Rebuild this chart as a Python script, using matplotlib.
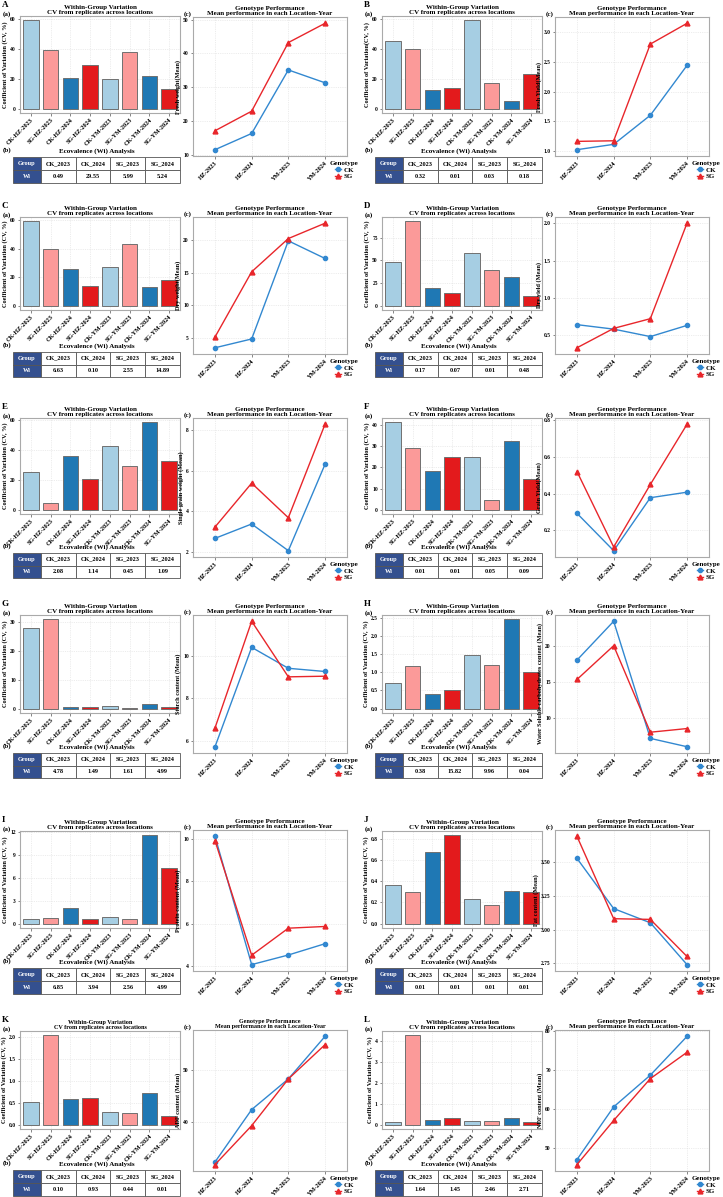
import matplotlib
matplotlib.use('Agg')
import matplotlib.pyplot as plt
from matplotlib.lines import Line2D

plt.rcParams['font.family'] = ['Liberation Serif', 'DejaVu Serif']
plt.rcParams['font.weight'] = 'bold'
plt.rcParams['axes.titleweight'] = 'bold'
plt.rcParams['axes.labelweight'] = 'bold'

# ---------------- data ----------------
bar_categories = ["CK-HZ-2023", "SG-HZ-2023", "CK-HZ-2024", "SG-HZ-2024",
                  "CK-YM-2023", "SG-YM-2023", "CK-YM-2024", "SG-YM-2024"]
line_categories = ["HZ-2023", "HZ-2024", "YM-2023", "YM-2024"]
wi_groups = ["CK_2023", "CK_2024", "SG_2023", "SG_2024"]
panel_letters = ["A", "B", "C", "D", "E", "F", "G", "H", "I", "J", "K", "L"]

cv_A = [59.1, 39.6, 20.2, 29.4, 19.8, 38.2, 21.6, 12.8]
ck_A = [11.5, 16.3, 35.1, 31.3]
sg_A = [17.1, 22.9, 43.2, 48.9]
wi_A = [0.49, 29.55, 5.99, 5.24]

cv_B = [45.6, 40.0, 12.5, 14.1, 59.3, 17.4, 5.4, 23.5]
ck_B = [1.02, 1.11, 1.60, 2.44]
sg_B = [1.16, 1.17, 2.80, 3.15]
wi_B = [0.32, 0.01, 0.03, 0.18]

cv_C = [59.2, 39.5, 25.9, 13.8, 27.0, 43.3, 13.2, 18.3]
ck_C = [3.5, 4.85, 19.9, 17.2]
sg_C = [5.15, 15.15, 20.25, 22.6]
wi_C = [6.63, 0.10, 2.55, 14.89]

cv_D = [47.7, 92.9, 19.8, 14.5, 58.3, 39.2, 31.8, 11.0]
ck_D = [0.64, 0.58, 0.48, 0.63]
sg_D = [0.33, 0.59, 0.72, 2.0]
wi_D = [0.17, 0.07, 0.01, 0.48]

cv_E = [25.0, 4.2, 36.1, 20.1, 42.3, 29.4, 58.2, 32.5]
ck_E = [2.66, 3.37, 2.05, 6.32]
sg_E = [3.22, 5.39, 3.68, 8.30]
wi_E = [2.08, 1.14, 0.45, 1.09]

cv_F = [41.4, 29.4, 18.3, 24.8, 25.2, 4.5, 32.7, 14.7]
ck_F = [0.293, 0.09, 0.378, 0.408]
sg_F = [0.52, 0.11, 0.45, 0.777]
wi_F = [0.01, 0.01, 0.05, 0.09]

cv_G = [28.0, 30.8, 0.7, 0.6, 0.8, 0.2, 1.5, 0.45]
ck_G = [5.74, 10.39, 9.41, 9.26]
sg_G = [6.62, 11.61, 9.01, 9.04]
wi_G = [4.78, 1.49, 1.61, 4.99]

cv_H = [0.69, 1.18, 0.40, 0.51, 1.48, 1.19, 2.45, 1.01]
ck_H = [18.1, 23.5, 7.2, 6.04]
sg_H = [15.4, 20.1, 8.06, 8.57]
wi_H = [0.38, 15.82, 9.96, 0.04]

cv_I = [0.61, 0.70, 2.1, 0.61, 0.88, 0.66, 11.6, 7.3]
ck_I = [10.1, 4.08, 4.53, 5.06]
sg_I = [9.9, 4.52, 5.79, 5.87]
wi_I = [6.85, 3.94, 2.56, 4.99]

cv_J = [0.365, 0.294, 0.678, 0.83, 0.232, 0.176, 0.303, 0.297]
ck_J = [3.527, 3.155, 3.05, 2.74]
sg_J = [3.69, 3.08, 3.075, 2.80]
wi_J = [0.01, 0.01, 0.01, 0.01]

cv_K = [0.51, 2.04, 0.58, 0.61, 0.29, 0.27, 0.72, 0.19]
ck_K = [32.2, 42.3, 48.2, 56.4]
sg_K = [31.7, 39.2, 48.2, 54.8]
wi_K = [0.10, 0.93, 0.44, 0.01]

cv_L = [0.13, 4.27, 0.24, 0.32, 0.18, 0.16, 0.32, 0.13]
ck_L = [46.9, 60.5, 68.7, 78.7]
sg_L = [45.6, 57.0, 67.8, 74.6]
wi_L = [1.64, 1.45, 2.46, 2.71]

cv_ylabels = ["Coefficient of Variation (CV, %)", "Coefficient of Variation(CV, %)"] + \
             ["Coefficient of Variation (CV, %)"] * 10
mean_ylabels = ["Fresh weight(Mean)", "Fresh Yield(Mean)", "Dry weight(Mean)",
                "Dry yield (Mean)", "Single grain weight (Mean)", "Grain Yield(Mean)",
                "Starch content (Mean)", "Water Soluble carbohydrates content (Mean)",
                "Protein content (Mean)", "Fat content (Mean)", "ADF content (Mean)",
                "NDF content (Mean)"]
cv_ticks = [[0, 20, 40, 60], [0, 20, 40, 60], [0, 20, 40, 60], [0, 25, 50, 75],
            [0, 20, 40, 60], [0, 10, 20, 30, 40], [0, 10, 20, 30],
            [0.0, 0.5, 1.0, 1.5, 2.0, 2.5], [0, 3, 6, 9, 12],
            [0.0, 0.2, 0.4, 0.6, 0.8], [0.0, 0.5, 1.0, 1.5, 2.0], [0, 1, 2, 3, 4]]
mean_ticks = [[10, 20, 30, 40, 50], [1.0, 1.5, 2.0, 2.5, 3.0], [5, 10, 15, 20],
              [0.5, 1.0, 1.5, 2.0], [2, 4, 6, 8], [0.2, 0.4, 0.6, 0.8], [6, 8, 10],
              [10, 15, 20], [4, 6, 8, 10], [2.75, 3.00, 3.25, 3.50], [40, 50],
              [50, 60, 70, 80]]
cv_fmt = ["%d", "%d", "%d", "%d", "%d", "%d", "%d", "%.1f", "%d", "%.1f", "%.1f", "%d"]
mean_fmt = ["%d", "%.1f", "%d", "%.1f", "%d", "%.1f", "%d", "%d", "%d", "%.2f", "%d", "%d"]

cv_all = [cv_A, cv_B, cv_C, cv_D, cv_E, cv_F, cv_G, cv_H, cv_I, cv_J, cv_K, cv_L]
ck_all = [ck_A, ck_B, ck_C, ck_D, ck_E, ck_F, ck_G, ck_H, ck_I, ck_J, ck_K, ck_L]
sg_all = [sg_A, sg_B, sg_C, sg_D, sg_E, sg_F, sg_G, sg_H, sg_I, sg_J, sg_K, sg_L]
wi_all = [wi_A, wi_B, wi_C, wi_D, wi_E, wi_F, wi_G, wi_H, wi_I, wi_J, wi_K, wi_L]

# ---------------- style / layout ----------------
W, H = 723, 1197
fig = plt.figure(figsize=(W / 100, H / 100), dpi=100)

bar_colors = {"CK-2023": "#A6CEE3", "SG-2023": "#FB9A99",
              "CK-2024": "#1F78B4", "SG-2024": "#E31A1C"}
CK_COLOR = "#3288D0"
SG_COLOR = "#E8262B"
HEAD_COLOR = "#34508F"
FRAME = "#AAAAAA"

rows = [
    dict(bar=(16, 113), tbl=(157, 183), line=(17, 156)),
    dict(bar=(217, 310), tbl=(352, 377), line=(217, 354)),
    dict(bar=(418, 514), tbl=(553, 578), line=(418, 557)),
    dict(bar=(615, 713), tbl=(753, 778), line=(615, 753)),
    dict(bar=(831, 928), tbl=(968, 994), line=(830, 971)),
    dict(bar=(1031, 1129), tbl=(1170, 1196), line=(1030, 1171)),
]


def rect(left, top, w, h):
    return [left / W, 1 - (top + h) / H, w / W, h / H]


def ftext(x, y, s, **kw):
    fig.text(x / W, 1 - y / H, s, **kw)


def style_axes(ax):
    for sp in ax.spines.values():
        sp.set_edgecolor(FRAME)
        sp.set_linewidth(0.8)
    ax.grid(True, color="#DDDDDD", lw=0.4, ls=(0, (2, 2)))
    ax.set_axisbelow(True)
    ax.tick_params(length=1.8, width=0.5, color="#555555", pad=1.2)


for i, letter in enumerate(panel_letters):
    r = rows[i // 2]
    X0 = 0 if i % 2 == 0 else 362
    bt, bb = r["bar"]
    tt, tb_ = r["tbl"]
    lt, lb = r["line"]
    tsize = 4.4 if letter == "K" else 5.0

    ftext(X0 + 2, bt - 11, letter, fontsize=6.5, ha="left", va="center")
    ftext(X0 + 3, bt - 2, "(a)", fontsize=5, ha="left", va="center")
    ftext(X0 + 184, lt - 3, "(c)", fontsize=5, ha="left", va="center")

    # ---- bar chart ----
    ax = fig.add_axes(rect(X0 + 20, bt, 160, bb - bt))
    cv = cv_all[i]
    cols = [bar_colors[c[:2] + "-" + c[-4:]] for c in bar_categories]
    ax.bar(range(len(bar_categories)), cv, width=0.78, color=cols,
           edgecolor="#707070", linewidth=0.7)
    m = max(cv)
    ax.set_ylim(-0.05 * m, 1.05 * m)
    ax.set_xlim(-0.55, len(bar_categories) - 0.45)
    ax.set_xticks(range(len(bar_categories)))
    ax.set_xticklabels(bar_categories, rotation=45, ha="right",
                       rotation_mode="anchor", fontsize=4.5)
    ax.set_yticks(cv_ticks[i])
    ax.set_yticklabels([cv_fmt[i] % t for t in cv_ticks[i]], fontsize=4)
    ax.set_ylabel(cv_ylabels[i], fontsize=4.5, labelpad=1.5)
    ax.set_title("Within-Group Variation\nCV from replicates across locations",
                 fontsize=tsize, pad=1.5, linespacing=1.05)
    style_axes(ax)

    # ---- table ----
    ftext(X0 + 3, tt - 7, "(b)", fontsize=5, ha="left", va="center")
    ftext(X0 + 97, tt - 6, "Ecovalence (Wi) Analysis", fontsize=5,
          ha="center", va="center")
    tax = fig.add_axes(rect(X0 + 13, tt, 167, tb_ - tt))
    tax.axis("off")
    cells = [["Group"] + wi_groups, ["Wi"] + ["%.2f" % v for v in wi_all[i]]]
    widths = [28, 35, 35, 35, 35]
    tot = sum(widths)
    table = tax.table(cellText=cells, bbox=[0, 0, 1, 1],
                      colWidths=[w_ / tot for w_ in widths], cellLoc="center")
    table.auto_set_font_size(False)
    table.set_fontsize(4.5)
    for (rr, cc), cell in table.get_celld().items():
        cell.set_edgecolor("#555555")
        cell.set_linewidth(0.6)
        cell.get_text().set_fontweight("bold")
        if cc == 0:
            cell.set_facecolor(HEAD_COLOR)
            cell.get_text().set_color("white")

    # ---- line chart ----
    lx = fig.add_axes(rect(X0 + 193, lt, 154, lb - lt))
    xs = range(len(line_categories))
    lx.plot(xs, ck_all[i], color=CK_COLOR, lw=1.0, marker="o", ms=3, zorder=3)
    lx.plot(xs, sg_all[i], color=SG_COLOR, lw=1.0, marker="^", ms=3.5, zorder=3)
    allv = list(ck_all[i]) + list(sg_all[i])
    lo, hi = min(allv), max(allv)
    pad = 0.05 * (hi - lo)
    lx.set_ylim(lo - pad, hi + pad)
    lx.set_xlim(-0.6, len(line_categories) - 0.4)
    lx.set_xticks(list(xs))
    lx.set_xticklabels(line_categories, rotation=45, ha="right",
                       rotation_mode="anchor", fontsize=4.5)
    lx.set_yticks(mean_ticks[i])
    lx.set_yticklabels([mean_fmt[i] % t for t in mean_ticks[i]], fontsize=4)
    lx.set_ylabel(mean_ylabels[i], fontsize=4.5, labelpad=1.5)
    lx.set_title("Genotype Performance\nMean performance in each Location-Year",
                 fontsize=tsize, pad=1.5, linespacing=1.05)
    style_axes(lx)

    handles = [Line2D([], [], color=CK_COLOR, marker="o", ms=3, lw=1.0),
               Line2D([], [], color=SG_COLOR, marker="^", ms=3.5, lw=1.0)]
    leg = fig.legend(handles, ["CK", "SG"], title="Genotype", loc="upper left",
                     bbox_to_anchor=((X0 + 330) / W, 1 - (lb + 5) / H),
                     frameon=False, fontsize=5, title_fontsize=5,
                     handlelength=0.8, handletextpad=0.4, borderpad=0,
                     labelspacing=0.1, borderaxespad=0)
    leg.get_title().set_fontweight("bold")

fig.savefig("out.png", dpi=100, facecolor="white")
